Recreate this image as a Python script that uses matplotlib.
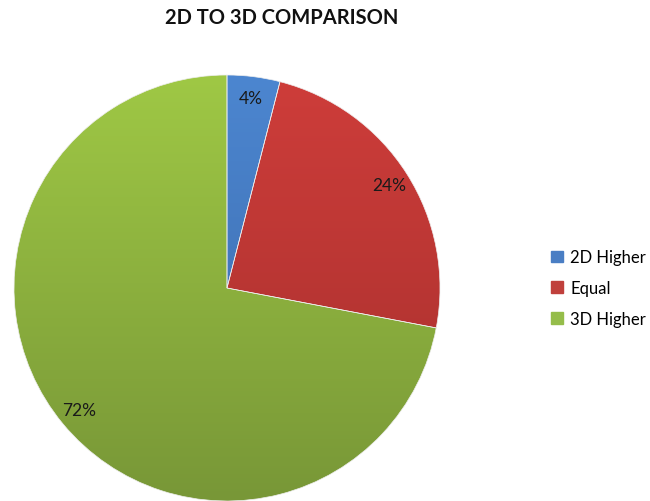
import numpy as np
import matplotlib
matplotlib.use("Agg")
import matplotlib.pyplot as plt
from matplotlib.colors import LinearSegmentedColormap

title = "2D TO 3D COMPARISON"
categories = ["2D Higher", "Equal", "3D Higher"]
shares = [4, 24, 72]

# (top, bottom) shades for the vertical gradient of each slice
top_colors = ["#4C86D0", "#CE3D3A", "#9FC845"]
bottom_colors = ["#3A68A8", "#A52F2D", "#789737"]
legend_colors = ["#4A7EC4", "#C0403C", "#95BD4A"]

fig = plt.figure(figsize=(6.5, 5.02), dpi=100)
fig.patch.set_facecolor("white")

ax = fig.add_axes([14 / 650, 0 / 502, 426 / 650, 426 / 502])
wedges, texts, autotexts = ax.pie(
    shares,
    colors=legend_colors,
    startangle=90,
    counterclock=False,
    autopct="%1.0f%%",
    pctdistance=0.9,
    radius=1.0,
    wedgeprops=dict(linewidth=0.5, edgecolor="#eeeeee"),
    textprops=dict(fontsize=12.5, color="#1a1a1a", family="Lato"),
)

# vertical gradient fill clipped to each slice
grad = np.linspace(0, 1, 256).reshape(-1, 1)
for w, c0, c1 in zip(wedges, top_colors, bottom_colors):
    cmap = LinearSegmentedColormap.from_list("g", [c0, c1])
    im = ax.imshow(grad, cmap=cmap, extent=(-1, 1, -1, 1), origin="upper",
                   aspect="auto", zorder=w.get_zorder() + 0.1)
    im.set_clip_path(w)
    w.set_facecolor("none")
    w.set_zorder(w.get_zorder() + 0.2)

for t in autotexts:
    t.set_zorder(5)

ax.set_xlim(-1, 1)
ax.set_ylim(-1, 1)
ax.set_aspect("equal")
ax.axis("off")

fig.text(282 / 650, 1 - 18 / 502, title, ha="center", va="center",
         fontsize=14.5, fontweight="bold", family="Lato", color="#111111")

handles = [plt.Rectangle((0, 0), 1, 1, color=c) for c in legend_colors]
fig.legend(handles, categories, loc="center left",
           bbox_to_anchor=(551 / 650, 1 - 289 / 502),
           frameon=False, handlelength=0.7, handleheight=0.7,
           handletextpad=0.45, labelspacing=0.88,
           borderpad=0, borderaxespad=0,
           prop=dict(family="Lato", size=12))

fig.savefig("out.png", dpi=100, facecolor="white")
